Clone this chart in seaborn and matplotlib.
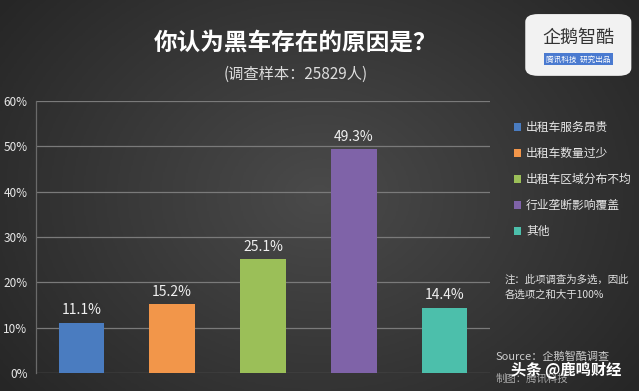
import numpy as np
import pandas as pd
import matplotlib
matplotlib.use("Agg")
import matplotlib.pyplot as plt
import seaborn as sns
from matplotlib.patches import FancyBboxPatch

# Data
categories = ["出租车服务昂贵", "出租车数量过少", "出租车区域分布不均", "行业垄断影响覆盖", "其他"]
values = [11.1, 15.2, 25.1, 49.3, 14.4]
colors = ["#4a7cc0", "#f2964a", "#9bbf58", "#7f63a8", "#4cbfab"]
yticks = [0, 10, 20, 30, 40, 50, 60]

title = "你认为黑车存在的原因是？"
subtitle = "(调查样本：25829人)"
note = "注：此项调查为多选，因此\n各选项之和大于100%"

sns.set_theme(style="dark")
plt.rcParams['font.family'] = ['Noto Sans CJK SC', 'DejaVu Sans']

fig = plt.figure(figsize=(6.39, 3.91), dpi=100)

# dark gradient background
bg = fig.add_axes([0, 0, 1, 1], zorder=-10)
xx = np.linspace(-1, 1, 400)
yy = np.linspace(-1, 1, 250)
X, Y = np.meshgrid(xx, yy)
grad = 1 - np.clip(np.sqrt((X * 0.9) ** 2 + (Y * 0.7) ** 2), 0, 1.4) / 1.4
bg.imshow(grad, cmap=matplotlib.colors.LinearSegmentedColormap.from_list(
    "bg", ["#262626", "#4a4a4a"]), aspect="auto", extent=[0, 1, 0, 1])
bg.set_axis_off()

ax = fig.add_axes([0.056, 0.046, 0.711, 0.696])
ax.patch.set_alpha(0)

df = pd.DataFrame({"cat": categories, "val": values})
sns.barplot(data=df, x="cat", y="val", hue="cat", palette=colors,
            width=0.5, ax=ax, legend=True, saturation=1, linewidth=0, edgecolor="none")

for i, v in enumerate(values):
    ax.text(i, v + 1.2, f"{v}%", ha="center", va="bottom", color="#f0f0f0", fontsize=10)

ax.set_ylim(0, 60)
ax.set_xlim(-0.5, 4.5)
ax.set_yticks(yticks)
ax.set_yticklabels([f"{t}%" for t in yticks], color="#e8e8e8", fontsize=8.5)
ax.set_xticks([])
ax.set_xlabel("")
ax.set_ylabel("")
ax.tick_params(axis="y", length=0, pad=6)
ax.yaxis.grid(True, color="#7a7a7a", linewidth=0.9)
ax.set_axisbelow(True)
for s in ["top", "right", "bottom"]:
    ax.spines[s].set_visible(False)
ax.spines["left"].set_color("#6a6a6a")
ax.spines["left"].set_linewidth(0.9)

leg = ax.legend(loc="upper left", bbox_to_anchor=(1.03, 0.965), frameon=False,
                fontsize=8.5, labelcolor="#e8e8e8", handlelength=0.6, handleheight=0.6,
                handletextpad=0.4, labelspacing=1.1)
for h in leg.legend_handles:
    h.set_edgecolor("none")
    h.set_linewidth(0)

fig.text(0.462, 0.892, title, ha="center", va="center", color="white",
         fontsize=17, fontweight="bold")
fig.text(0.462, 0.81, subtitle, ha="center", va="center", color="#dddddd", fontsize=11)

fig.text(0.79, 0.265, note, ha="left", va="center", color="#e0e0e0",
         fontsize=7.5, style="italic", linespacing=1.6)
fig.text(0.775, 0.088, "Source：企鹅智酷调查", ha="left", va="center", color="#cccccc",
         fontsize=8, style="italic")
fig.text(0.775, 0.03, "制图：腾讯科技", ha="left", va="center", color="#aaaaaa",
         fontsize=7.5, style="italic")
fig.text(0.80, 0.052, "头条 @鹿鸣财经", ha="left", va="center", color="white",
         fontsize=11, fontweight="bold")

# logo
logo = FancyBboxPatch((0.822, 0.806), 0.166, 0.158, boxstyle="round,pad=0,rounding_size=0.02",
                      transform=fig.transFigure, facecolor="#f2f2f2", edgecolor="none")
fig.patches.append(logo)
fig.text(0.905, 0.903, "企鹅智酷", ha="center", va="center", color="#333333", fontsize=13)
fig.text(0.905, 0.848, "腾讯科技  研究出品", ha="center", va="center", color="white",
         fontsize=5.5, bbox=dict(facecolor="#4a7ad0", edgecolor="none", pad=1.5))

fig.savefig("out.png", dpi=100)
